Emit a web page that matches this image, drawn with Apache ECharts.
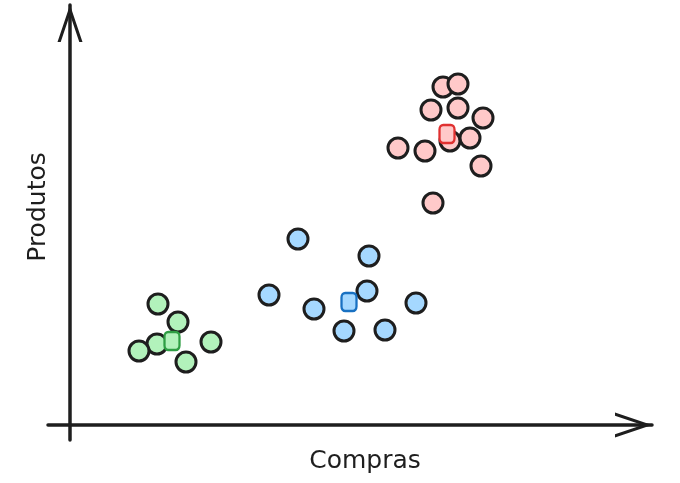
<!DOCTYPE html>
<html>
<head>
<meta charset="utf-8">
<script src="https://cdn.jsdelivr.net/npm/echarts@6/dist/echarts.min.js"></script>
<style>html,body{margin:0;padding:0;background:#fff}#c{width:680px;height:483px}</style>
</head>
<body>
<div id="c"></div>
<script>
const xAxisName = 'Compras';
const yAxisName = 'Produtos';

const pinkPoints = [[37.3,33.8],[38.8,34.1],[36.1,31.5],[38.8,31.7],[41.3,30.7],[38.0,28.4],[40.0,28.7],[32.8,27.7],[35.5,27.4],[41.1,25.9],[36.3,22.2]];
const pinkCentroid = [[37.7,29.1]];
const bluePoints = [[22.8,18.6],[29.9,16.9],[19.9,13.0],[24.4,11.6],[29.7,13.4],[34.6,12.2],[27.4,9.4],[31.5,9.5]];
const blueCentroid = [[27.9,12.3]];
const greenPoints = [[8.8,12.1],[10.8,10.3],[8.7,8.1],[6.9,7.4],[14.1,8.3],[11.6,6.3]];
const greenCentroid = [[10.2,8.4]];

const ink = '#1e1e1e';
const chevron = 'path://M0,37 L12.5,0 L25,37 L21.8,37 L12.5,9.5 L3.2,37 Z';

function circles(data, fill) {
  return { type: 'scatter', data: data, symbol: 'circle', symbolSize: 20,
    itemStyle: { color: fill, borderColor: ink, borderWidth: 3, opacity: 1 }, z: 2 };
}
function centroid(data, fill, stroke) {
  return { type: 'scatter', data: data, symbol: 'roundRect', symbolSize: [15, 18],
    itemStyle: { color: fill, borderColor: stroke, borderWidth: 2.5, opacity: 1 }, z: 3 };
}
const axisCommon = {
  type: 'value', splitLine: { show: false }, axisTick: { show: false }, axisLabel: { show: false },
  axisLine: { show: true, onZero: true, lineStyle: { color: ink, width: 3.5, cap: 'round' },
    symbol: ['none', chevron], symbolSize: [25, 37], symbolOffset: [0, -18.5] }
};
const chart = echarts.init(document.getElementById('c'));
chart.setOption({
  animation: false,
  backgroundColor: '#ffffff',
  grid: { left: 48, right: 28, top: 5, bottom: 43 },
  xAxis: Object.assign({}, axisCommon, { min: -2.2, max: 58.2 }),
  yAxis: Object.assign({}, axisCommon, { min: -1.5, max: 42 }),
  graphic: [
    { type: 'text', x: 365, y: 461, style: { text: xAxisName, font: '25px "DejaVu Sans"', fill: ink, align: 'center', verticalAlign: 'middle' } },
    { type: 'text', x: 38, y: 207, rotation: Math.PI / 2, style: { text: yAxisName, font: '25px "DejaVu Sans"', fill: ink, align: 'center', verticalAlign: 'middle' } }
  ],
  series: [
    circles(pinkPoints, '#ffc9c9'),
    circles(bluePoints, '#a5d8ff'),
    circles(greenPoints, '#b2f2bb'),
    centroid(pinkCentroid, '#ffc9c9', '#e03131'),
    centroid(blueCentroid, '#a5d8ff', '#1971c2'),
    centroid(greenCentroid, '#b2f2bb', '#2f9e44')
  ]
});
</script>
</body>
</html>
